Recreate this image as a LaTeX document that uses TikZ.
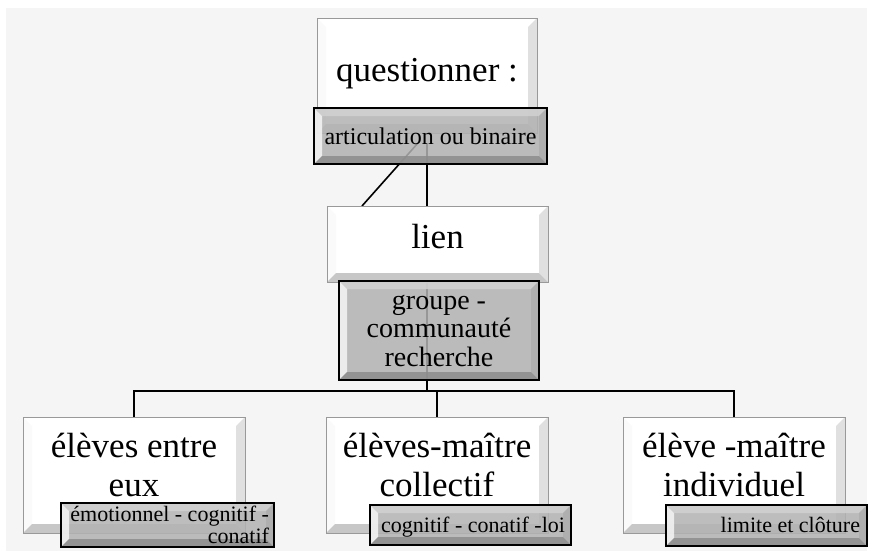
\documentclass[tikz,border=0pt]{standalone}
\usepackage{fontspec}
\setmainfont{Liberation Serif}
\usetikzlibrary{backgrounds}

\newcommand{\bevelfill}[5]{%
  \coordinate (pNW) at (path picture bounding box.north west);
  \coordinate (pNE) at (path picture bounding box.north east);
  \coordinate (pSW) at (path picture bounding box.south west);
  \coordinate (pSE) at (path picture bounding box.south east);
  \coordinate (iNW) at ([xshift=#1,yshift=-#1]pNW);
  \coordinate (iNE) at ([xshift=-#1,yshift=-#1]pNE);
  \coordinate (iSW) at ([xshift=#1,yshift=#1]pSW);
  \coordinate (iSE) at ([xshift=-#1,yshift=#1]pSE);
  \fill[#2] (pNW) -- (pNE) -- (iNE) -- (iNW) -- cycle;
  \fill[#3] (pNW) -- (pSW) -- (iSW) -- (iNW) -- cycle;
  \fill[#4] (pNE) -- (pSE) -- (iSE) -- (iNE) -- cycle;
  \fill[#5] (pSW) -- (pSE) -- (iSE) -- (iSW) -- cycle;
}

\begin{document}
\begin{tikzpicture}[x=1pt, y=-1pt,
    every node/.style={inner sep=0pt, outer sep=0pt},
    whitebox/.style={draw=black!40, line width=.8pt, fill=white,
      path picture={\bevelfill{9pt}{white}{black!2}{black!12}{black!22}}},
    graybox/.style={draw=black, line width=1.8pt, fill=black!30, fill opacity=.85, text opacity=1,
      path picture={\bevelfill{8pt}{black!18}{black!4}{black!32}{black!45}}},
    bigtext/.style={font=\fontsize{35}{39}\selectfont, align=flush center},
    smalltext/.style={font=\fontsize{22}{22}\selectfont, align=flush right},
    link/.style={draw=black, line width=1.6pt}]
    \useasboundingbox (0,0) rectangle (873,558);

    \node[whitebox, minimum width=220pt, minimum height=115pt,
      label={[bigtext, yshift=2pt]center:{questionner :}}] (quest) at (427,75.5) {};
    \node[graybox, minimum width=233pt, minimum height=56pt,
      font=\fontsize{24}{26}\selectfont] (artic) at (430.5,136) {articulation ou binaire};
    \node[whitebox, minimum width=221pt, minimum height=76pt,
      label={[bigtext, yshift=7pt]center:lien}] (lien) at (437.5,244) {};
    \node[graybox, minimum width=200pt, minimum height=99pt, align=flush center,
      font=\fontsize{28}{28.5}\selectfont] (groupe) at (439,330.5) {groupe -\\communauté\\recherche};

    \foreach \bx/\bn/\bt in {134/entre/{élèves entre\\eux}, 437/collectif/{élèves-maître\\collectif}, 734/individuel/{élève -maître\\individuel}} {
        \node[whitebox, minimum width=222pt, minimum height=116pt,
          label={[bigtext, yshift=10pt]center:\bt}] (\bn) at (\bx,475) {};
    }

    \node[graybox, smalltext, minimum width=213pt, minimum height=44pt,
      text width=203pt] (emot) at (167.5,525) {émotionnel - cognitif -\\conatif};
    \node[graybox, smalltext, minimum width=201pt, minimum height=40pt,
      text width=189pt, text height=22pt, text depth=8pt] (conat) at (470.5,525) {cognitif - conatif -loi};
    \node[graybox, smalltext, minimum width=201pt, minimum height=41pt,
      text width=187pt, text height=22pt, text depth=8pt] (cloture) at (766.5,525.5) {limite et clôture};

    \begin{scope}[on background layer]
        \fill[white] (0,0) rectangle (873,558);
        \fill[black!4] (6,8) rectangle (867,551);
        \coordinate (qTail) at (418,143);
        \coordinate (qStem) at (427,143);
        \coordinate (bar) at (427,391);
        \draw[link] (qTail) -- ([xshift=35pt]lien.north west);
        \draw[link] (qStem) -- (qStem |- lien.north);
        \draw[link] (bar |- lien.south) -- (bar);
        \draw[link] (entre.north) -- (entre.north |- bar) -| (individuel.north);
        \draw[link] (collectif.north) -- (collectif.north |- bar);
    \end{scope}
\end{tikzpicture}
\end{document}
